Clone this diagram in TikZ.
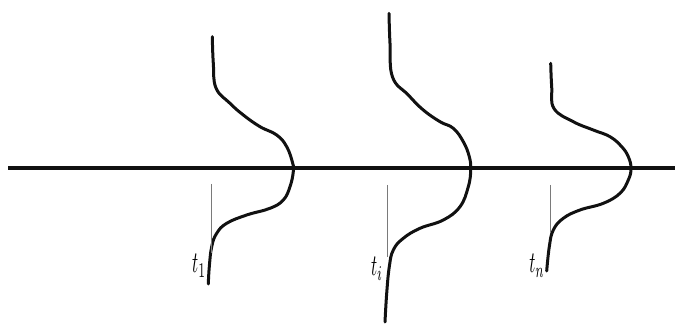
\documentclass[tikz,border=0pt]{standalone}
\usepackage{graphicx}
\usepackage{tikz}
\usetikzlibrary{positioning}
\definecolor{ink}{HTML}{111111}
\definecolor{guide}{HTML}{7A7A7A}
\newcommand{\tname}[1]{\scalebox{1.7}[3]{$#1$}}
\tikzset{
  axisline/.style={
    draw=ink,
    line width=4.5pt,
  },
  pulse/.style={
    draw=ink,
    line width=3pt,
    line cap=round,
    line join=round,
  },
  guideline/.style={
    draw=guide,
    line width=0.9pt,
  },
  tlabel/.style={
    inner sep=0pt,
  },
}

\begin{document}
\begin{tikzpicture}[x=1pt, y=-1pt]

% === Frame ===
\useasboundingbox (0,0) rectangle (675,334);

% === Axis ===
\coordinate (axisL) at (8,168);
\coordinate (axisR) at (675,168);
\draw[axisline] (axisL) -- (axisR);

% === Pulse t_1 ===
\draw[pulse] plot[smooth, tension=0.7] coordinates {
  (212.3,36.7) (213.3,63.3) (216,88) (230,103.3) (243.3,115)
  (260,126.7) (276.7,135) (286.7,146.7) (292.7,163.3) (293.3,171.7)
  (290,186.7) (283.3,200) (270,208.3) (246.7,215) (226.7,223.3)
  (216.7,233.3) (211.7,246.7) (209.3,266.7) (208.3,284)};
\coordinate (g1top) at (211,184);
\coordinate (g1bot) at (211,253);
\draw[guideline] (g1top) -- (g1bot);
\node[tlabel] (t1) at (199,266) {\tname{t_1}};

% === Pulse t_i ===
\draw[pulse] plot[smooth, tension=0.7] coordinates {
  (389,13.3) (390,43.3) (392.5,77) (408.3,95) (423.3,110)
  (440,121.7) (453.3,128.3) (463.3,141.7) (469.3,156.7) (470.7,170)
  (468.3,186.7) (460,206.7) (443.3,220) (420,228.3) (403.3,238.3)
  (393.3,250) (389.3,266.7) (386.7,293.3) (385,322)};
\coordinate (g2top) at (387,185);
\coordinate (g2bot) at (387,257);
\draw[guideline] (g2top) -- (g2bot);
\node[tlabel] (ti) at (377,269) {\tname{t_i}};

% === Pulse t_n ===
\draw[pulse] plot[smooth, tension=0.7] coordinates {
  (550.7,63.3) (551.7,86.7) (554,108.5) (573.3,121.7)
  (593.3,130) (610,136.7) (621.7,146.7) (628.3,156.7) (631,168.3)
  (628.3,180) (620,193.3) (603.3,203.3) (580,210) (563.3,218.3)
  (553.3,230) (549.3,246.7) (546.7,271)};
\coordinate (g3top) at (550,185);
\coordinate (g3bot) at (550,233);
\draw[guideline] (g3top) -- (g3bot);
\node[tlabel] (tn) at (537,266) {\tname{t_n}};

\end{tikzpicture}
\end{document}
